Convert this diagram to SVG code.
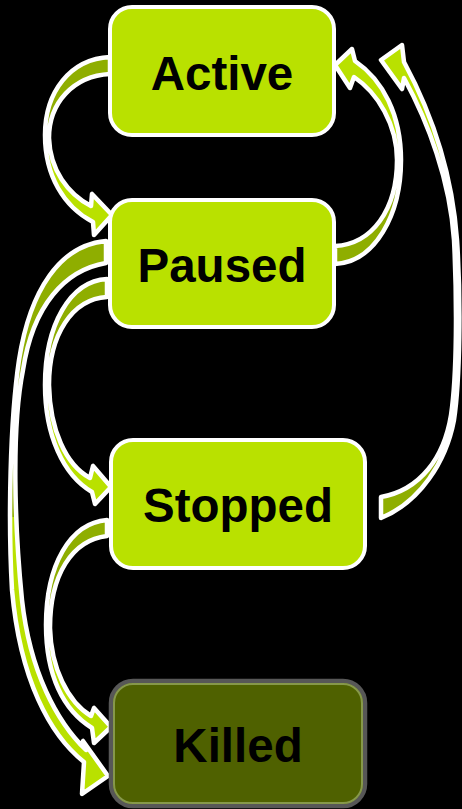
<svg xmlns="http://www.w3.org/2000/svg" width="462" height="809" viewBox="0 0 462 809">
  <defs>
    <!-- ribbon fills: darker back face near the tail, bright face near the head -->
    <linearGradient id="ribbonDown" x1="0" y1="0" x2="0" y2="1">
      <stop offset="0" stop-color="#8fae00"/>
      <stop offset="0.5" stop-color="#8fae00"/>
      <stop offset="0.5" stop-color="#b9e100"/>
      <stop offset="1" stop-color="#b9e100"/>
    </linearGradient>
    <linearGradient id="ribbonUp" x1="0" y1="0" x2="0" y2="1">
      <stop offset="0" stop-color="#b9e100"/>
      <stop offset="0.5" stop-color="#b9e100"/>
      <stop offset="0.5" stop-color="#8fae00"/>
      <stop offset="1" stop-color="#8fae00"/>
    </linearGradient>
    <style>
      .bg { fill: #000000; }
      .arrow { stroke: #ffffff; stroke-width: 4.5; stroke-linejoin: round; }
      .down { fill: url(#ribbonDown); }
      .up { fill: url(#ribbonUp); }
      .state { fill: #b9e100; stroke: #ffffff; stroke-width: 4; }
      .final { fill: #4f6100; stroke: #575757; stroke-width: 4.5; }
      .final-inner { fill: none; stroke: #86984a; stroke-width: 2; }
      .label { font-family: "Liberation Sans", Arial, sans-serif; font-weight: bold; font-size: 47.5px; fill: #000000; text-anchor: middle; }
    </style>
  </defs>

  <rect class="bg" x="0" y="0" width="462" height="809"/>

  <g id="connectors">
    <!-- Active -> Paused -->
    <path id="active-paused" class="arrow down" d="M110,57 C 70,59 45,92 45,135 C 45,176 64,207 93,222 L 94,235 L 112,215 L 92,194 L 91,206 C 68,194 50,170 49,138 C 49,103 73,76 110,74 Z"/>
    <!-- Paused -> Active -->
    <path id="paused-active" class="arrow up" d="M335,264 C 375,262 401,215 401,160 C 401,115 383,80 355,61 L 352,49 L 335,65 L 350,88 L 354,77 C 378,93 397,125 397,160 C 397,210 372,244 335,246 Z"/>
    <!-- Stopped -> Active -->
    <path id="stopped-active" class="arrow up" d="M381,518 C 420,502 446,462 454,420 C 460,380 461,300 457,240 C 452,170 430,110 404,62 L 402,45 L 381,60 L 402,89 L 404,78 C 428,122 450,180 454,240 C 457,300 457,375 451,415 C 444,458 420,490 381,497 Z"/>
    <!-- Paused -> Killed -->
    <path id="paused-killed" class="arrow down" d="M106,241 C 60,245 30,290 19,360 C 10,420 8,520 12,590 C 20,680 50,735 84,762 L 82,794 L 108,776 L 83,741 L 86,750 C 57,722 30,672 22,600 C 15,530 11,430 23,370 C 33,305 65,270 106,263 Z"/>
    <!-- Paused -> Stopped -->
    <path id="paused-stopped" class="arrow down" d="M107,279 C 70,281 45,325 45,385 C 45,435 63,475 92,492 L 95,504 L 111,487 L 93,466 L 90,478 C 66,465 50,430 49,385 C 49,335 72,299 107,297 Z"/>
    <!-- Stopped -> Killed -->
    <path id="stopped-killed" class="arrow down" d="M107,520 C 70,523 46,565 46,625 C 46,675 63,710 92,728 L 94,743 L 111,727 L 94,708 L 91,716 C 68,702 51,668 50,628 C 50,575 72,540 107,536 Z"/>
  </g>

  <g id="active">
    <rect class="state" x="110" y="7" width="224" height="128" rx="22"/>
    <text class="label" x="222" y="90">Active</text>
  </g>

  <g id="paused">
    <rect class="state" x="110" y="200" width="224" height="127" rx="22"/>
    <text class="label" x="222" y="282">Paused</text>
  </g>

  <g id="stopped">
    <rect class="state" x="111" y="440" width="254" height="128" rx="22"/>
    <text class="label" x="238" y="522">Stopped</text>
  </g>

  <g id="killed">
    <rect class="final" x="111" y="681" width="254" height="125" rx="22"/>
    <rect class="final-inner" x="114" y="684" width="248" height="119" rx="19"/>
    <text class="label" x="238" y="762">Killed</text>
  </g>
</svg>
